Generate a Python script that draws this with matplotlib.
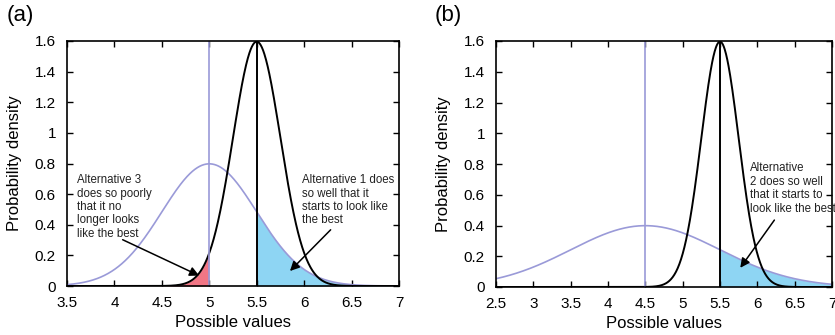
import numpy as np
import matplotlib
matplotlib.use("Agg")
import matplotlib.pyplot as plt

plt.rcParams['font.family'] = ['Liberation Sans', 'DejaVu Sans']

# Panel (a) parameters (normal distributions)
a_black_mean, a_black_sd = 5.5, 0.25
a_purple_mean, a_purple_sd = 5.0, 0.5
a_xlim = (3.5, 7.0)
a_xticks = [3.5, 4, 4.5, 5, 5.5, 6, 6.5, 7]
a_xticklabels = ['3.5', '4', '4.5', '5', '5.5', '6', '6.5', '7']

# Panel (b)
b_black_mean, b_black_sd = 5.5, 0.25
b_purple_mean, b_purple_sd = 4.5, 1.0
b_xlim = (2.5, 7.0)
b_xticks = [2.5, 3, 3.5, 4, 4.5, 5, 5.5, 6, 6.5, 7]
b_xticklabels = ['2.5', '3', '3.5', '4', '4.5', '5', '5.5', '6', '6.5', '7']

yticks = [0, 0.2, 0.4, 0.6, 0.8, 1.0, 1.2, 1.4, 1.6]
yticklabels = ['0', '0.2', '0.4', '0.6', '0.8', '1', '1.2', '1.4', '1.6']

PURPLE = '#9a9ad8'
BLUE = '#8ed5f3'
PINK = '#f27685'


def pdf(x, m, s):
    return np.exp(-0.5 * ((x - m) / s) ** 2) / (s * np.sqrt(2 * np.pi))


fig = plt.figure(figsize=(8.35, 3.35), dpi=100)
W, H = 835, 335
axa = fig.add_axes([67 / W, 1 - 286 / H, 332 / W, 245 / H])
axb = fig.add_axes([496 / W, 1 - 287 / H, 336 / W, 246 / H])


def style(ax, xlim, xticks, xticklabels):
    ax.set_xlim(*xlim)
    ax.set_ylim(0, 1.6)
    ax.set_xticks(xticks)
    ax.set_xticklabels(xticklabels)
    ax.set_yticks(yticks)
    ax.set_yticklabels(yticklabels)
    ax.tick_params(direction='in', top=True, right=True, length=4, width=1,
                   labelsize=11)
    ax.tick_params(axis='x', pad=7)
    ax.tick_params(axis='y', pad=8)
    for sp in ax.spines.values():
        sp.set_linewidth(1.2)
    ax.set_xlabel('Possible values', fontsize=12, labelpad=4)
    ax.set_ylabel('Probability density', fontsize=12, labelpad=9)


# Panel (a)
x = np.linspace(a_xlim[0], a_xlim[1], 800)
pb = pdf(x, a_black_mean, a_black_sd)
pp = pdf(x, a_purple_mean, a_purple_sd)
axa.fill_between(x, 0, pb, where=(x <= a_purple_mean), color=PINK, lw=0)
axa.fill_between(x, 0, pp, where=(x >= a_black_mean), color=BLUE, lw=0)
axa.plot(x, pp, color=PURPLE, lw=1.2)
axa.plot(x, pb, color='black', lw=1.4)
axa.axvline(a_purple_mean, color=PURPLE, lw=1.2)
axa.axvline(a_black_mean, color='black', lw=1.4)
style(axa, a_xlim, a_xticks, a_xticklabels)
axa.text(3.61, 0.73, 'Alternative 3\ndoes so poorly\nthat it no\nlonger looks\nlike the best',
         fontsize=8.3, va='top', ha='left', linespacing=1.15, color='#222222')
axa.text(5.98, 0.73, 'Alternative 1 does\nso well that it\nstarts to look like\nthe best',
         fontsize=8.3, va='top', ha='left', linespacing=1.15, color='#222222')
axa.annotate('', xy=(4.92, 0.06), xytext=(4.06, 0.31),
             arrowprops=dict(arrowstyle='-|>', color='black', lw=1.1, mutation_scale=14))
axa.annotate('', xy=(5.83, 0.085), xytext=(6.30, 0.38),
             arrowprops=dict(arrowstyle='-|>', color='black', lw=1.1, mutation_scale=14))
fig.text(7 / W, 1 - 16 / H, '(a)', fontsize=16, va='center', ha='left')

# Panel (b)
x = np.linspace(b_xlim[0], b_xlim[1], 800)
pb = pdf(x, b_black_mean, b_black_sd)
pp = pdf(x, b_purple_mean, b_purple_sd)
axb.fill_between(x, 0, pp, where=(x >= b_black_mean), color=BLUE, lw=0)
axb.plot(x, pp, color=PURPLE, lw=1.2)
axb.plot(x, pb, color='black', lw=1.4)
axb.axvline(b_purple_mean, color=PURPLE, lw=1.2)
axb.axvline(b_black_mean, color='black', lw=1.4)
style(axb, b_xlim, b_xticks, b_xticklabels)
axb.text(5.90, 0.81, 'Alternative\n2 does so well\nthat it starts to\nlook like the best',
         fontsize=8.3, va='top', ha='left', linespacing=1.15, color='#222222')
axb.annotate('', xy=(5.75, 0.11), xytext=(6.25, 0.45),
             arrowprops=dict(arrowstyle='-|>', color='black', lw=1.1, mutation_scale=14))
fig.text(435 / W, 1 - 16 / H, '(b)', fontsize=16, va='center', ha='left')

fig.savefig('out.png', dpi=100)
